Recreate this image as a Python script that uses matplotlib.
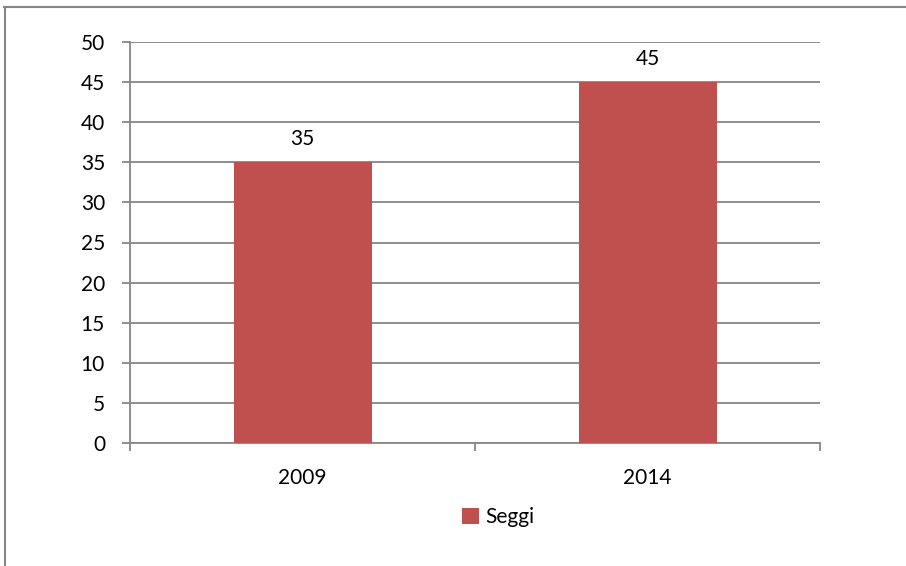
import matplotlib
matplotlib.use("Agg")
import matplotlib.pyplot as plt
from matplotlib.lines import Line2D

years = ["2009", "2014"]
seggi = [35, 45]
yticks = [0, 5, 10, 15, 20, 25, 30, 35, 40, 45, 50]

BAR_COLOR = "#C0504D"
GRID_COLOR = "#868686"

plt.rcParams["font.family"] = ["Lato", "DejaVu Sans"]

fig = plt.figure(figsize=(9.06, 5.66), dpi=100)
W, H = 906, 566
ax = fig.add_axes([130 / W, 1 - 443 / H, 690 / W, 401 / H])

x = range(len(years))
bars = ax.bar(x, seggi, width=0.4, color=BAR_COLOR, zorder=3, label="Seggi")
for b, v in zip(bars, seggi):
    ax.text(b.get_x() + b.get_width() / 2, v + 1.6, str(v), ha="center",
            va="bottom", fontsize=15, color="black")

ax.set_xlim(-0.5, len(years) - 0.5)
ax.set_ylim(0, 50)
ax.set_yticks(yticks)
ax.set_yticklabels([str(t) for t in yticks], fontsize=15)
ax.yaxis.grid(True, color=GRID_COLOR, linewidth=1.3, zorder=0)
ax.tick_params(axis="y", length=6, width=1.3, color=GRID_COLOR, pad=12)

# x ticks sit on category boundaries, labels in the middle
ax.set_xticks([-0.5, 0.5, 1.5])
ax.set_xticklabels([])
ax.set_xticks(list(x), minor=True)
ax.set_xticklabels(years, minor=True, fontsize=15)
ax.tick_params(axis="x", which="major", length=6, width=1.3, color=GRID_COLOR)
ax.tick_params(axis="x", which="minor", length=0, pad=18)

for s in ["top", "right"]:
    ax.spines[s].set_visible(False)
for s in ["left", "bottom"]:
    ax.spines[s].set_color(GRID_COLOR)
    ax.spines[s].set_linewidth(1.3)

leg = fig.legend(handles=[bars], labels=["Seggi"], loc="center",
                 bbox_to_anchor=(498 / W, 1 - 517 / H), frameon=False,
                 fontsize=15, handlelength=0.8, handleheight=0.8,
                 handletextpad=0.3)

# chart border (only top and left visible in the crop)
fig.add_artist(Line2D([4 / W, 1], [1 - 6.5 / H, 1 - 6.5 / H], color=GRID_COLOR,
                      linewidth=1.5, transform=fig.transFigure))
fig.add_artist(Line2D([4.5 / W, 4.5 / W], [0, 1 - 6.5 / H], color=GRID_COLOR,
                      linewidth=1.5, transform=fig.transFigure))

fig.savefig("out.png", dpi=100)
